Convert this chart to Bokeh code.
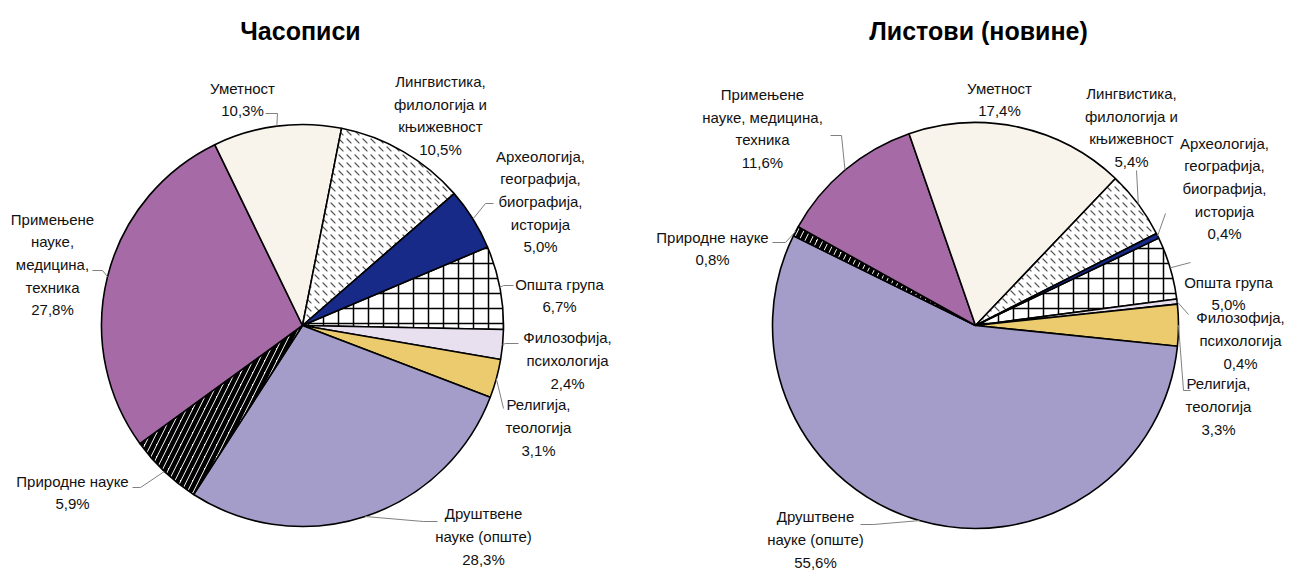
import math
from bokeh.plotting import figure
from bokeh.models import ColumnDataSource
from bokeh.embed import file_html
from bokeh.resources import INLINE
from bokeh.core.properties import value

# ---------------- data ----------------
titles = ["Часописи", "Листови (новине)"]
categories = [
    "Општа група",
    "Филозофија, психологија",
    "Религија, теологија",
    "Друштвене науке (опште)",
    "Природне науке",
    "Примењене науке, медицина, техника",
    "Уметност",
    "Лингвистика, филологија и књижевност",
    "Археологија, географија, биографија, историја",
]
journals = [6.7, 2.4, 3.1, 28.3, 5.9, 27.8, 10.3, 10.5, 5.0]
newspapers = [5.0, 0.4, 3.3, 55.6, 0.8, 11.6, 17.4, 5.4, 0.4]

# label line breaks (text only)
journal_label_lines = [
    ["Општа група"],
    ["Филозофија,", "психологија"],
    ["Религија,", "теологија"],
    ["Друштвене", "науке (опште)"],
    ["Природне науке"],
    ["Примењене", "науке,", "медицина,", "техника"],
    ["Уметност"],
    ["Лингвистика,", "филологија и", "књижевност"],
    ["Археологија,", "географија,", "биографија,", "историја"],
]
newspaper_label_lines = [
    ["Општа група"],
    ["Филозофија,", "психологија"],
    ["Религија,", "теологија"],
    ["Друштвене", "науке (опште)"],
    ["Природне науке"],
    ["Примењене", "науке, медицина,", "техника"],
    ["Уметност"],
    ["Лингвистика,", "филологија и", "књижевност"],
    ["Археологија,", "географија,", "биографија,", "историја"],
]

# ---------------- styles ----------------
fills = ["white", "#E8E0EF", "#EBCB6E", "#A59DC9", "white", "#A66AA6", "#F8F4EC", "white", "#172A87"]
hatches = ["cross", " ", " ", " ", "right_diagonal_line", " ", " ", "left_diagonal_dash", " "]
hatch_colors = ["black", "black", "black", "black", "black", "black", "black", "#505050", "black"]
hatch_scales = [15, 10, 10, 10, 12, 10, 10, 8, 10]
hatch_weights = [1.5, 1, 1, 1, 4.5, 1, 1, 1.2, 1]

W, H = 1294, 572
FONT = "Liberation Sans"
FS = 15
LH = 20

def X(px):
    return px

def Y(py):
    return H - py

# layout (page pixel coords): pie centre, radius, first-slice angle (clockwise from top)
pies = [
    dict(values=journals, lines=journal_label_lines, cx=302, cy=325, r=201, start=67.0, title_x=300,
         label_pos=[(559, 285), (567, 340), (538, 407), (483, 516), (72, 482), (52, 224), (242, 89), (440, 85), (540, 161)],
         leaders=[[(503, 285), (513, 285)], [(505, 343), (518, 343)], [(503, 408)], [(423, 521), (437, 521)],
                  [(140, 487), (132, 487)], [(102, 270), (92, 270)], [(277, 113), (265, 113)], None, [(485, 203), (493, 203)]]),
    dict(values=newspapers, lines=newspaper_label_lines, cx=975, cy=325, r=203, start=64.5, title_x=978,
         label_pos=[(1228, 283), (1240, 320), (1218, 386), (815, 519), (712, 238), (762, 98), (999, 89), (1131, 97), (1224, 148)],
         leaders=[[(1190, 262)], [(1188, 314)], [(1183, 390), (1190, 390)], [(873, 524), (860, 524)],
                  [(785, 242), (772, 242)], [(841, 135), (830, 135)], None, [(1136, 170)], [(1165, 213)]]),
]

p = figure(width=W, height=H, x_range=(0, W), y_range=(0, H), x_axis_type=None, y_axis_type=None,
           toolbar_location=None, output_backend="svg", min_border=0)
p.grid.visible = False
p.outline_line_color = None
p.background_fill_color = "white"
p.border_fill_color = "white"

def fmt(v):
    return f"{v:.1f}".replace(".", ",") + "%"

for k, pie in enumerate(pies):
    vals = pie["values"]
    total = sum(vals)
    cum = pie["start"]
    starts, ends, mids = [], [], []
    for v in vals:
        a0 = cum
        a1 = cum + v / total * 360.0
        cum = a1
        starts.append(math.radians(90 - a1))
        ends.append(math.radians(90 - a0))
        mids.append((a0 + a1) / 2)
    src = ColumnDataSource(dict(
        x=[X(pie["cx"])] * len(vals), y=[Y(pie["cy"])] * len(vals),
        start=starts, end=ends, fill=fills, hatch=hatches, hc=hatch_colors, hs=hatch_scales, hw=hatch_weights,
        name=categories, val=vals,
    ))
    p.wedge(x="x", y="y", radius=pie["r"], start_angle="start", end_angle="end", source=src,
            fill_color="fill", line_color="black", line_width=1.6,
            hatch_pattern="hatch", hatch_color="hc", hatch_scale="hs", hatch_weight="hw")

    # leader lines
    xs, ys = [], []
    for m, ld in zip(mids, pie["leaders"]):
        if ld is None:
            continue
        ex = pie["cx"] + pie["r"] * math.sin(math.radians(m))
        ey = pie["cy"] - pie["r"] * math.cos(math.radians(m))
        pts = [(ex, ey)] + ld
        xs.append([X(a) for a, b in pts])
        ys.append([Y(b) for a, b in pts])
    p.multi_line(xs, ys, line_color="#808080", line_width=1)

    # labels
    tx, ty, tt = [], [], []
    for lines, v, (lx, ly) in zip(pie["lines"], vals, pie["label_pos"]):
        full = lines + [fmt(v)]
        n = len(full)
        tx.append(X(lx))
        ty.append(Y(ly + (n - 1) * LH / 2))
        tt.append("\n".join(full))
    p.text(tx, ty, text=tt, text_align="center", text_baseline="middle",
           text_font=value(FONT), text_font_size=f"{FS}px", text_color="#111111",
           text_line_height=LH / FS)

    p.text([X(pie["title_x"])], [Y(30)], text=[titles[k]], text_align="center",
           text_baseline="middle", text_font=value(FONT), text_font_size="25px", text_font_style="bold",
           text_color="black")

open("out.html", "w").write(file_html(p, INLINE))
